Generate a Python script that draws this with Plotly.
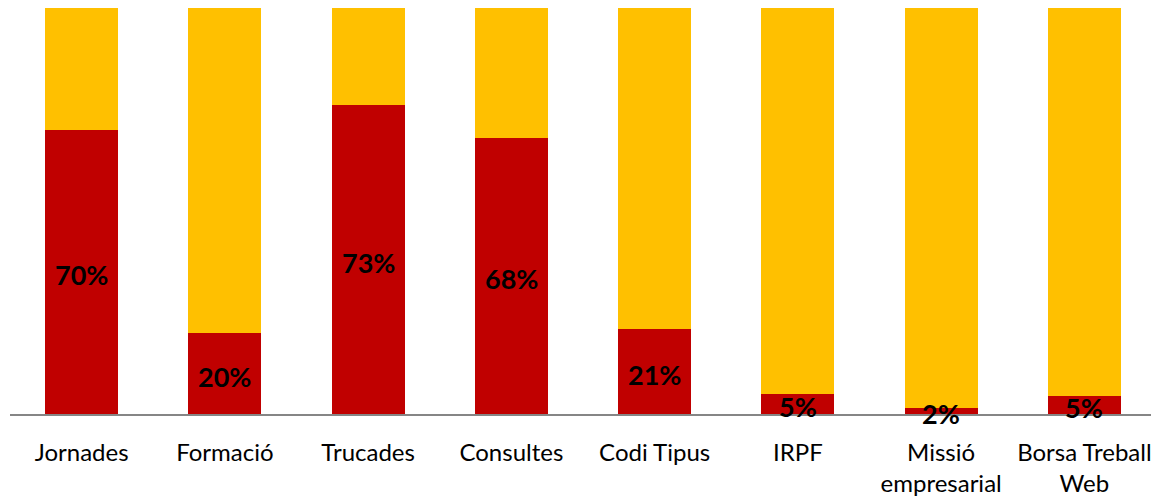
import plotly.graph_objects as go

categories = ["Jornades", "Formació", "Trucades", "Consultes", "Codi Tipus",
              "IRPF", "Missió<br>empresarial", "Borsa Treball<br>Web"]
# red share (bottom) as drawn, and the labels written on the bars
red_values = [70, 20, 76, 68, 21, 5, 1.5, 4.5]
red_labels = ["70%", "20%", "73%", "68%", "21%", "5%", "2%", "5%"]
gold_values = [100 - v for v in red_values]

fig = go.Figure()
fig.add_trace(go.Bar(x=categories, y=red_values, marker_color="#C00000",
                     marker_line_width=0, hoverinfo="skip"))
fig.add_trace(go.Bar(x=categories, y=gold_values, marker_color="#FFC000",
                     marker_line_width=0, hoverinfo="skip"))

# labels centred in the red part (slightly below centre, like the original)
for cat, v, lab in zip(categories, red_values, red_labels):
    fig.add_annotation(x=cat, y=v / 2, text=lab, showarrow=False, yshift=-3,
                       font=dict(family="Lato", size=27, color="black", weight="bold"))

# page body has an 8px margin, so the figure is a little smaller than the window
fig.update_layout(
    barmode="stack", bargap=0.49, showlegend=False,
    width=1151, height=489,
    margin=dict(l=2, r=3, t=0, b=83),
    plot_bgcolor="white", paper_bgcolor="white",
    font=dict(family="Lato", size=24, color="black"),
)
fig.update_xaxes(showline=True, linecolor="#868686", linewidth=2, layer="below traces",
                 ticks="", ticklabelstandoff=16, showgrid=False, automargin=False)
fig.update_yaxes(range=[0, 100], visible=False, showgrid=False)

fig.write_html("out.html")
